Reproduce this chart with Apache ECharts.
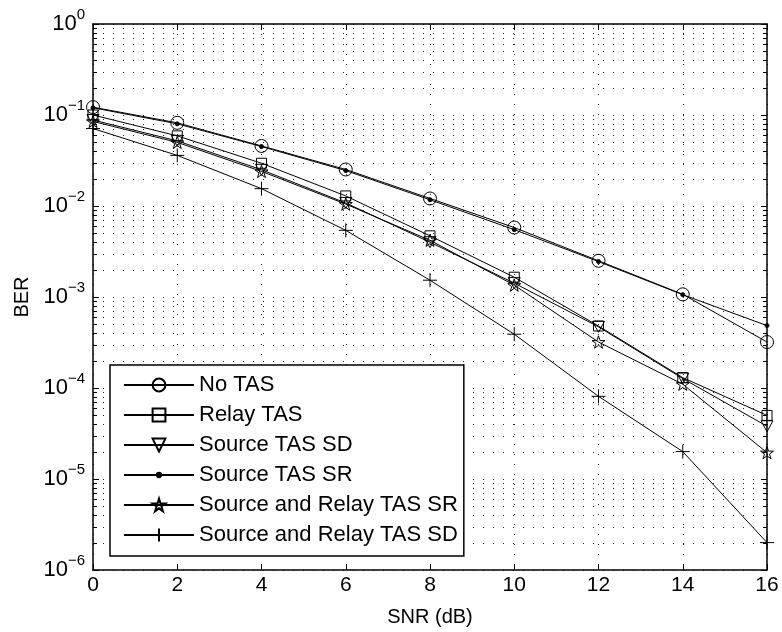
<!DOCTYPE html>
<html>
<head>
<meta charset="utf-8">
<script src="https://cdn.jsdelivr.net/npm/echarts@6/dist/echarts.min.js"></script>
<style>
html,body{margin:0;padding:0;background:#fff;}
#chart{width:782px;height:632px;}
</style>
</head>
<body>
<div id="chart"></div>
<script>
// ---- data ----
const snr = [0, 2, 4, 6, 8, 10, 12, 14, 16];
const seriesNames = ['No TAS', 'Relay TAS', 'Source TAS SD', 'Source TAS SR', 'Source and Relay TAS SR', 'Source and Relay TAS SD'];
const noTAS        = [0.122, 0.082, 0.0457, 0.0252, 0.0121, 0.0058, 0.0025, 0.00107, 0.00032];
const relayTAS     = [0.100, 0.059, 0.0295, 0.0129, 0.0047, 0.00165, 0.00048, 0.000130, 0.000050];
const sourceTAS_SD = [0.088, 0.052, 0.0250, 0.0108, 0.0040, 0.00142, 0.00047, 0.000127, 0.000038];
const sourceTAS_SR = [0.120, 0.080, 0.0450, 0.0245, 0.0117, 0.0055, 0.00245, 0.00106, 0.000485];
const srTAS_SR     = [0.085, 0.050, 0.0240, 0.0105, 0.0042, 0.00135, 0.00032, 0.000110, 0.0000195];
const srTAS_SD     = [0.071, 0.036, 0.0155, 0.0054, 0.00153, 0.00039, 0.000081, 0.000020, 0.0000020];
const xTicks = [0, 2, 4, 6, 8, 10, 12, 14, 16];
const yDecades = [-6, -5, -4, -3, -2, -1, 0];
const minorMultipliers = [2, 3, 4, 5, 6, 7, 8, 9];

// minor log tick values (axis ticks, not data)
const minorTicks = [];
yDecades.slice(0, -1).forEach(function (e) {
  minorMultipliers.forEach(function (m) { minorTicks.push(m * Math.pow(10, e)); });
});

const FONT = '"Liberation Sans", Arial, Helvetica, sans-serif';

const SYM = {
  circle: 'circle',
  square: 'rect',
  triDown: 'path://M-6,-5 L6,-5 L0,6 Z',
  dot: 'path://M-6,-6 L-6,-6 M6,6 L6,6 M-2,0 A2,2 0 1 1 2,0 A2,2 0 1 1 -2,0 Z',
  star: 'path://M0,-100 L22.45,-30.9 L95.1,-30.9 L36.3,11.8 L58.8,80.9 L0,38.2 L-58.8,80.9 L-36.3,11.8 L-95.1,-30.9 L-22.45,-30.9 Z',
  plus: 'path://M0,-7 L0,7 M-7,0 L7,0'
};

function pairs(arr) { return snr.map(function (x, i) { return [x, arr[i]]; }); }

function lineSeries(name, arr, symbol, size, fill) {
  return {
    name: name,
    type: 'line',
    data: pairs(arr),
    symbol: symbol,
    symbolSize: size,
    symbolKeepAspect: true,
    showAllSymbol: true,
    lineStyle: { color: '#000', width: 1 },
    itemStyle: { color: fill || 'rgba(0,0,0,0)', borderColor: '#000', borderWidth: 1 },
    emphasis: { disabled: true },
    z: 3
  };
}

function supLabel(v) {
  const e = Math.round(Math.log10(v));
  const s = e < 0 ? '\u2212' + (-e) : String(e);
  return '{b|10}{s|' + s + '}';
}

const chart = echarts.init(document.getElementById('chart'), null, { renderer: 'canvas' });

const option = {
  animation: false,
  backgroundColor: '#fff',
  textStyle: { fontFamily: FONT, color: '#000' },
  grid: { left: 93, right: 15, top: 24, bottom: 54, containLabel: false },
  xAxis: [{
    type: 'value', min: 0, max: 16, interval: 2, position: 'bottom',
    name: 'SNR (dB)', nameLocation: 'middle', nameGap: 37,
    nameTextStyle: { fontFamily: FONT, fontSize: 20, color: '#000' },
    axisLine: { show: true, onZero: false, lineStyle: { color: '#000', width: 1.5 } },
    axisTick: { show: true, inside: true, length: 6, lineStyle: { color: '#000', width: 1 } },
    axisLabel: { show: true, margin: 5, fontFamily: FONT, fontSize: 21, color: '#000',
      formatter: function (v) { return xTicks.indexOf(v) >= 0 ? String(v) : ''; } },
    splitLine: { show: true, lineStyle: { color: '#222', width: 1, type: [1, 9] } }
  }, {
    type: 'value', min: 0, max: 16, interval: 2, position: 'top',
    axisLine: { show: true, onZero: false, lineStyle: { color: '#000', width: 1.5 } },
    axisTick: { show: true, inside: true, length: 6, lineStyle: { color: '#000', width: 1 } },
    axisLabel: { show: false }, splitLine: { show: false }
  }],
  yAxis: [{
    type: 'log', logBase: 10, min: 1e-6, max: 1, splitNumber: 6, position: 'left',
    name: 'BER', nameLocation: 'middle', nameGap: 42,
    nameTextStyle: { fontFamily: FONT, fontSize: 20, color: '#000' },
    axisLine: { show: true, onZero: false, lineStyle: { color: '#000', width: 1.5 } },
    axisTick: { show: true, inside: true, length: 6, lineStyle: { color: '#000', width: 1 } },
    axisLabel: {
      show: true, margin: 8, formatter: supLabel,
      rich: {
        b: { fontFamily: FONT, fontSize: 22, color: '#000', lineHeight: 34, verticalAlign: 'middle' },
        s: { fontFamily: FONT, fontSize: 15, color: '#000', lineHeight: 16, verticalAlign: 'top' }
      }
    },
    splitLine: { show: true, lineStyle: { color: '#222', width: 1, type: [1, 9] } }
  }, {
    type: 'log', logBase: 10, min: 1e-6, max: 1, splitNumber: 6, position: 'right',
    axisLine: { show: true, onZero: false, lineStyle: { color: '#000', width: 1.5 } },
    axisTick: { show: true, inside: true, length: 6, lineStyle: { color: '#000', width: 1 } },
    axisLabel: { show: false }, splitLine: { show: false }
  }],
  legend: {
    data: seriesNames,
    orient: 'vertical',
    left: 110, top: 365,
    padding: [9, 6, 10, 13],
    itemWidth: 70, itemHeight: 16, itemGap: 8,
    backgroundColor: '#fff',
    borderColor: '#000', borderWidth: 1.5, borderRadius: 0,
    selectedMode: false,
    textStyle: { fontFamily: FONT, fontSize: 22, color: '#000', lineHeight: 22 },
    z: 10
  },
  series: [
    {
      type: 'custom',
      name: 'minorGrid',
      silent: true,
      z: 1,
      data: minorTicks.map(function (v) { return [0, v]; }),
      renderItem: function (params, api) {
        const y = Math.round(api.coord([0, api.value(1)])[1]) + 0.5;
        const cs = params.coordSys;
        return {
          type: 'group',
          children: [
            { type: 'line', shape: { x1: cs.x, y1: y, x2: cs.x + cs.width, y2: y },
              style: { stroke: '#222', lineWidth: 1, lineDash: [1, 9] } },
            { type: 'line', shape: { x1: cs.x, y1: y, x2: cs.x + 4, y2: y },
              style: { stroke: '#000', lineWidth: 1 } },
            { type: 'line', shape: { x1: cs.x + cs.width - 4, y1: y, x2: cs.x + cs.width, y2: y },
              style: { stroke: '#000', lineWidth: 1 } }
          ]
        };
      }
    },
    lineSeries(seriesNames[0], noTAS, SYM.circle, 13),
    lineSeries(seriesNames[1], relayTAS, SYM.square, 10),
    lineSeries(seriesNames[2], sourceTAS_SD, SYM.triDown, 12),
    lineSeries(seriesNames[3], sourceTAS_SR, SYM.dot, 12, '#000'),
    lineSeries(seriesNames[4], srTAS_SR, SYM.star, 13),
    lineSeries(seriesNames[5], srTAS_SD, SYM.plus, 14)
  ]
};

chart.setOption(option);
</script>
</body>
</html>
